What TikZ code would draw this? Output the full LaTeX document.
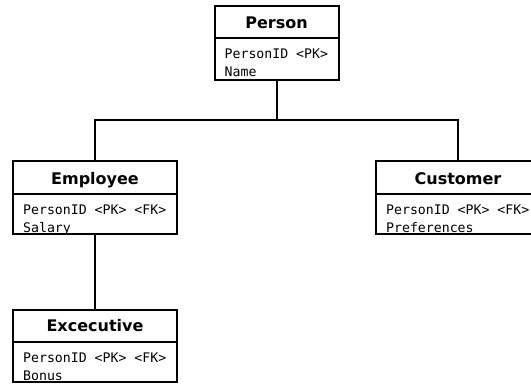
\documentclass[tikz,border=0pt]{standalone}
\usepackage{fontspec}
\newfontfamily\entityfont{DejaVu Sans}
\newfontfamily\attrfont{DejaVu Sans Mono}

\tikzset{
  boxpart/.style={draw=black, fill=white, line width=2pt, outer sep=0pt,
    inner sep=0pt, anchor=north},
  titletext/.style={font=\entityfont\bfseries\fontsize{16}{19}\selectfont,
    inner sep=0pt, anchor=base},
  attrtext/.style={font=\attrfont\fontsize{13.2}{16}\selectfont,
    inner sep=0pt, anchor=base west},
  link/.style={draw=black, line width=2pt}
}

\begin{document}
\begin{tikzpicture}[x=1pt, y=-1pt]
  \clip (0,0) rectangle (531,384);
  \fill[white] (0,0) rectangle (531,384);

  % Person
  \node[boxpart, minimum width=124pt, minimum height=32pt, anchor=north west]
    (personhead) at (214.5,5.5) {};
  \node[boxpart, minimum width=124pt, minimum height=42pt]
    (personbody) at (personhead.south) {};

  % Employee
  \node[boxpart, minimum width=164pt, minimum height=33pt, anchor=north west]
    (employeehead) at (13,161) {};
  \node[boxpart, minimum width=164pt, minimum height=40pt]
    (employeebody) at (employeehead.south) {};

  % Customer
  \node[boxpart, minimum width=164pt, minimum height=33pt, anchor=north west]
    (customerhead) at (376,161) {};
  \node[boxpart, minimum width=164pt, minimum height=40pt]
    (customerbody) at (customerhead.south) {};

  % Executive
  \node[boxpart, minimum width=164pt, minimum height=32pt, anchor=north west]
    (executivehead) at (13,309.5) {};
  \node[boxpart, minimum width=164pt, minimum height=40pt]
    (executivebody) at (executivehead.south) {};

  % Generalisation lines
  \coordinate (bus) at (personbody.south |- 0,120);
  \draw[link] (personbody.south) -- (bus);
  \draw[link] (employeehead.north) |- (bus) -| (customerhead.north);
  \draw[link] (employeebody.south) -- (executivehead.north);

  % Titles
  \node[titletext] at ([yshift=9.5pt]personhead.south) {Person};
  \node[titletext] at ([yshift=10pt]employeehead.south) {Employee};
  \node[titletext] at ([yshift=10pt]customerhead.south) {Customer};
  \node[titletext] at ([yshift=10pt]executivehead.south) {Excecutive};

  % Attributes
  \node[attrtext] at ([xshift=10pt,yshift=-20.5pt]personbody.north west) {PersonID <PK>};
  \node[attrtext] at ([xshift=10pt,yshift=-38.5pt]personbody.north west) {Name};

  \node[attrtext] at ([xshift=10pt,yshift=-20.5pt]employeebody.north west) {PersonID <PK> <FK>};
  \node[attrtext] at ([xshift=10pt,yshift=-38pt]employeebody.north west) {Salary};

  \node[attrtext] at ([xshift=10pt,yshift=-20.5pt]customerbody.north west) {PersonID <PK> <FK>};
  \node[attrtext] at ([xshift=10pt,yshift=-38pt]customerbody.north west) {Preferences};

  \node[attrtext] at ([xshift=10pt,yshift=-21pt]executivebody.north west) {PersonID <PK> <FK>};
  \node[attrtext] at ([xshift=10pt,yshift=-38.5pt]executivebody.north west) {Bonus};
\end{tikzpicture}
\end{document}
